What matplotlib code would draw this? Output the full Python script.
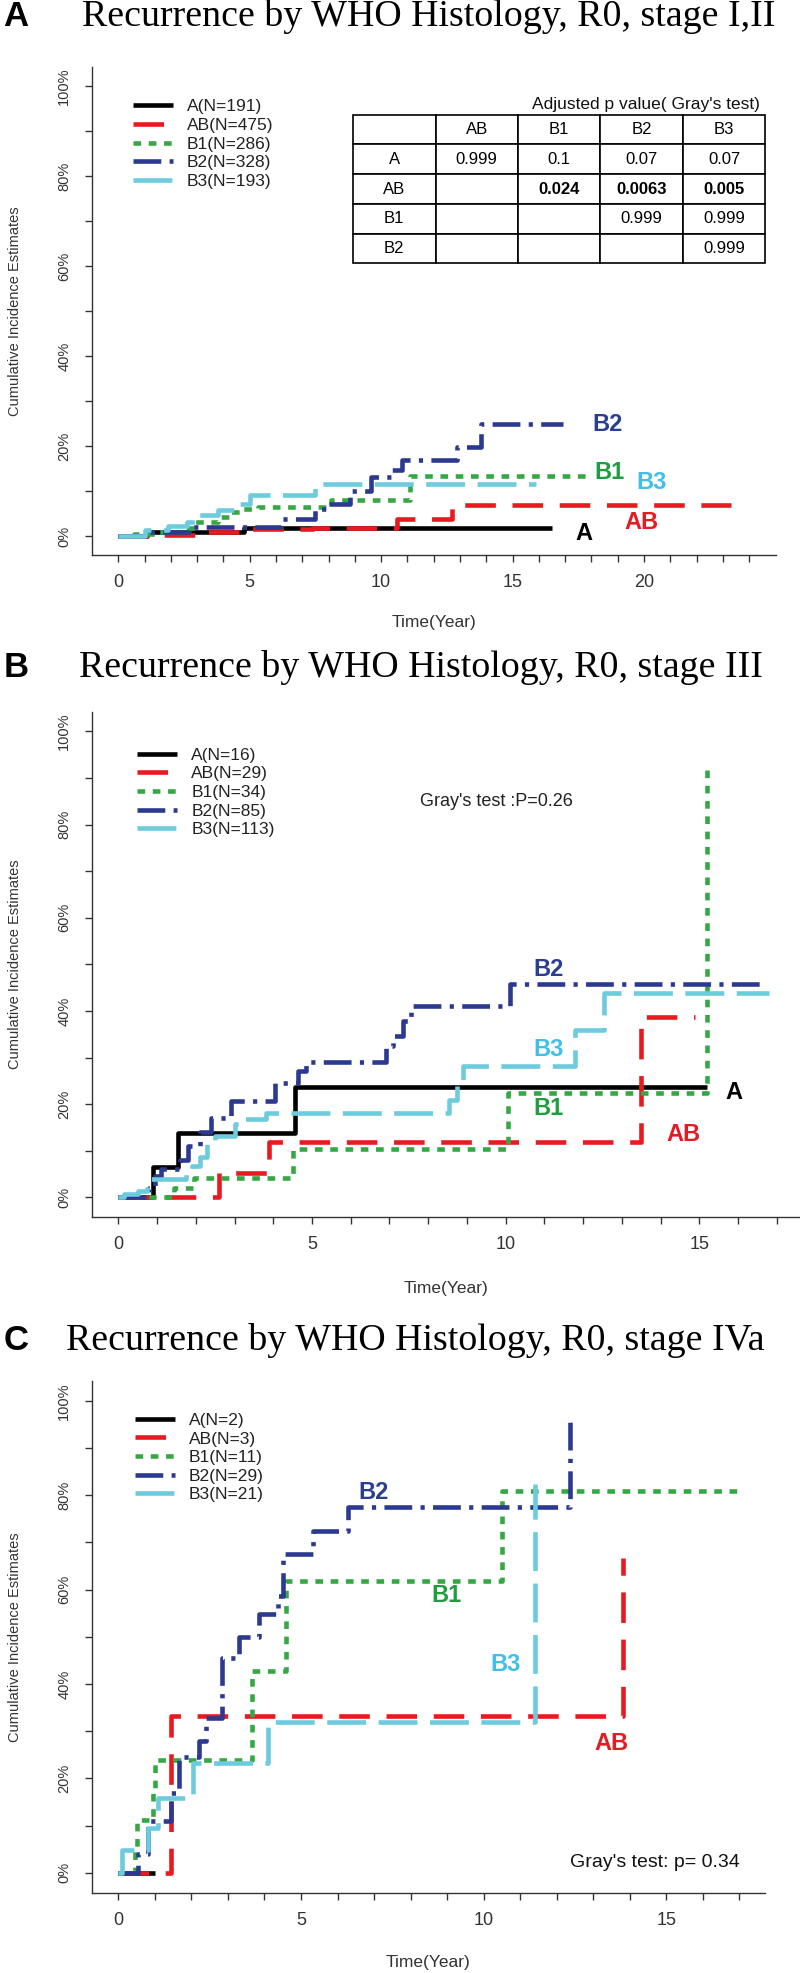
import matplotlib
matplotlib.use("Agg")
import matplotlib.pyplot as plt
from matplotlib.ticker import FixedLocator

plt.rcParams['font.family'] = ['Liberation Sans', 'DejaVu Sans']
plt.rcParams['lines.scale_dashes'] = False

# ---- data: cumulative incidence step curves (time in years, value 0-1) ----
groups = ['A', 'AB', 'B1', 'B2', 'B3']

# panel A, stage I,II
pA_A_t = [0, 1.1, 4.8, 16.5]
pA_A_v = [0, 0.009, 0.019, 0.019]
pA_AB_t = [0, 1.1, 2.9, 5.0, 7.4, 10.6, 12.7, 23.3]
pA_AB_v = [0, 0.003, 0.009, 0.015, 0.019, 0.039, 0.069, 0.069]
pA_B1_t = [0, 0.6, 1.5, 2.5, 2.9, 3.8, 4.3, 4.7, 5.3, 8.1, 11.1, 17.8]
pA_B1_v = [0, 0.005, 0.01, 0.018, 0.031, 0.043, 0.054, 0.061, 0.065, 0.081, 0.134, 0.134]
pA_B2_t = [0, 1.1, 2.7, 6.2, 7.5, 8.0, 8.8, 9.6, 10.4, 10.8, 12.9, 13.8, 16.9]
pA_B2_v = [0, 0.009, 0.02, 0.039, 0.061, 0.072, 0.10, 0.132, 0.147, 0.169, 0.199, 0.248, 0.248]
pA_B3_t = [0, 1.0, 1.9, 2.6, 3.0, 3.8, 4.5, 5.0, 7.5, 15.9]
pA_B3_v = [0, 0.013, 0.022, 0.031, 0.046, 0.058, 0.072, 0.092, 0.115, 0.115]
pA_n = [191, 475, 286, 328, 193]

# panel B, stage III
pB_A_t = [0, 0.9, 1.55, 4.55, 15.2]
pB_A_v = [0, 0.066, 0.139, 0.236, 0.236]
pB_AB_t = [0, 2.6, 3.9, 13.5, 14.9]
pB_AB_v = [0, 0.052, 0.119, 0.386, 0.386]
pB_B1_t = [0, 1.45, 1.95, 4.5, 10.05, 15.2]
pB_B1_v = [0, 0.02, 0.041, 0.104, 0.225, 0.925]
pB_B2_t = [0, 0.8, 0.95, 1.1, 1.6, 1.8, 2.1, 2.4, 2.9, 4.05, 4.65, 4.85, 6.9, 7.1, 7.35, 7.55, 10.1, 16.6]
pB_B2_v = [0, 0.02, 0.045, 0.06, 0.08, 0.11, 0.14, 0.17, 0.207, 0.246, 0.271, 0.291, 0.325, 0.346, 0.379, 0.411, 0.457, 0.457]
pB_B3_t = [0, 0.15, 0.5, 0.75, 1.75, 1.9, 2.1, 2.3, 2.5, 3.0, 3.2, 3.8, 8.55, 8.75, 8.9, 11.8, 12.55, 16.8]
pB_B3_v = [0, 0.007, 0.014, 0.039, 0.057, 0.068, 0.086, 0.118, 0.132, 0.157, 0.168, 0.182, 0.21, 0.25, 0.282, 0.36, 0.439, 0.439]
pB_n = [16, 29, 34, 85, 113]

# panel C, stage IVa
pC_A_t = [0, 1.0]
pC_A_v = [0, 0]
pC_AB_t = [0, 1.44, 13.8]
pC_AB_v = [0, 0.333, 0.667]
pC_B1_t = [0, 0.45, 0.5, 0.95, 1.0, 3.65, 4.6, 10.5, 17.0]
pC_B1_v = [0, 0.05, 0.111, 0.17, 0.24, 0.428, 0.619, 0.81, 0.81]
pC_B2_t = [0, 0.53, 0.8, 1.45, 1.65, 2.2, 2.4, 2.83, 3.3, 3.85, 4.36, 4.5, 5.34, 6.3, 12.35]
pC_B2_v = [0, 0.04, 0.11, 0.17, 0.246, 0.28, 0.329, 0.456, 0.499, 0.548, 0.587, 0.676, 0.725, 0.775, 0.969]
pC_B3_t = [0, 0.1, 0.8, 1.1, 2.05, 4.1, 11.4]
pC_B3_v = [0, 0.048, 0.095, 0.158, 0.232, 0.319, 0.824]
pC_n = [2, 3, 11, 29, 21]

# curve end labels (x, y)
pA_lab = {'B2': (18.6, 0.248), 'B1': (18.7, 0.141), 'B3': (20.3, 0.119), 'AB': (19.9, 0.031), 'A': (17.7, 0.005)}
pB_lab = {'B2': (11.1, 0.489), 'A': (15.9, 0.225), 'B3': (11.1, 0.318), 'B1': (11.1, 0.19), 'AB': (14.6, 0.136)}
pC_lab = {'B2': (7.0, 0.806), 'B1': (8.97, 0.587), 'B3': (10.6, 0.442), 'AB': (13.5, 0.275)}

# adjusted p values table (panel A)
tab_cols = ['', 'AB', 'B1', 'B2', 'B3']
tab_rows = [['A', '0.999', '0.1', '0.07', '0.07'],
            ['AB', '', '0.024', '0.0063', '0.005'],
            ['B1', '', '', '0.999', '0.999'],
            ['B2', '', '', '', '0.999']]

titles = ['Recurrence by WHO Histology, R0, stage I,II',
          'Recurrence by WHO Histology, R0, stage III',
          'Recurrence by WHO Histology, R0, stage IVa']
pct_ticks = [0, 0.2, 0.4, 0.6, 0.8, 1.0]
pct_labels = ['0%', '20%', '40%', '60%', '80%', '100%']

# ---- styles ----
line_col = {'A': '#000000', 'AB': '#e8191f', 'B1': '#35a845', 'B2': '#2b3990', 'B3': '#6ccbdc'}
text_col = {'A': '#000000', 'AB': '#e41b23', 'B1': '#1f9e3f', 'B2': '#2a3f94', 'B3': '#40bfe8'}
dash = {'A': None, 'AB': (22, 12), 'B1': (5.5, 5.5), 'B2': (20, 6, 3, 6), 'B3': (28, 9)}

W, H = 800, 1973
fig = plt.figure(figsize=(W / 100, H / 100), dpi=100)


def add_ax(left, right, top, bottom):
    return fig.add_axes([left / W, 1 - bottom / H, (right - left) / W, (bottom - top) / H])


def draw_panel(ax, curves, ns, labels, xmax_tick, xlim, legend_xy):
    for g in groups:
        t, v = curves[g]
        kw = dict(color=line_col[g], lw=3.3, solid_capstyle='butt')
        if dash[g] is not None:
            kw['dashes'] = dash[g]
        ax.step(t, v, where='post', label='%s(N=%d)' % (g, ns[groups.index(g)]), **kw)
    for g, (x, y) in labels.items():
        ax.text(x, y, g, color=text_col[g], fontsize=17, fontweight='bold',
                ha='center', va='center')
    ax.set_xlim(*xlim)
    ax.set_ylim(-0.042, 1.042)
    ax.xaxis.set_major_locator(FixedLocator(list(range(0, xmax_tick + 1, 5))))
    ax.xaxis.set_minor_locator(FixedLocator(list(range(0, xmax_tick + 1))))
    ax.yaxis.set_major_locator(FixedLocator(pct_ticks))
    ax.yaxis.set_minor_locator(FixedLocator([0.1, 0.3, 0.5, 0.7, 0.9]))
    ax.set_yticklabels(pct_labels, rotation=90, va='center')
    for s in ['top', 'right']:
        ax.spines[s].set_visible(False)
    for s in ['left', 'bottom']:
        ax.spines[s].set_color('#333333')
        ax.spines[s].set_linewidth(1)
    ax.tick_params(which='both', direction='out', length=5, width=1, color='#333333',
                   labelcolor='#333333')
    ax.tick_params(axis='y', labelsize=10.5, pad=10)
    ax.tick_params(axis='x', labelsize=13, pad=9)
    ax.set_ylabel('Cumulative Incidence Estimates', fontsize=10.5, color='#333333', va='center')
    ax.set_xlabel('Time(Year)', fontsize=12.5, color='#333333', va='center')
    leg = ax.legend(loc='upper left', bbox_to_anchor=legend_xy, frameon=False, fontsize=12.5,
                    handlelength=2.3, handletextpad=0.8, labelspacing=0.2, borderpad=0,
                    borderaxespad=0)
    for txt in leg.get_texts():
        txt.set_color('#222222')


# panel A
axA = add_ax(92, 775.5, 67, 555)
draw_panel(axA, {'A': (pA_A_t, pA_A_v), 'AB': (pA_AB_t, pA_AB_v), 'B1': (pA_B1_t, pA_B1_v),
                 'B2': (pA_B2_t, pA_B2_v), 'B3': (pA_B3_t, pA_B3_v)},
           pA_n, pA_lab, 24, (-1, 25), (0.060, 0.934))
axA.yaxis.set_label_coords(-0.113, 0.5)
axA.xaxis.set_label_coords(0.5, -0.139)

tbl = axA.table(cellText=[tab_cols] + tab_rows, cellLoc='center',
                bbox=[0.382, 0.598, 0.603, 0.304])
tbl.auto_set_font_size(False)
tbl.set_fontsize(12)
for (r, c), cell in tbl.get_celld().items():
    cell.set_linewidth(1.2)
    cell.set_edgecolor('black')
    if r == 2 and c >= 2:
        cell.get_text().set_fontweight('bold')
axA.text(0.977, 0.924, "Adjusted p value( Gray's test)", transform=axA.transAxes,
         ha='right', va='center', fontsize=12.5, color='#111111')

# panel B
axB = add_ax(92, 800, 711.7, 1217)
draw_panel(axB, {'A': (pB_A_t, pB_A_v), 'AB': (pB_AB_t, pB_AB_v), 'B1': (pB_B1_t, pB_B1_v),
                 'B2': (pB_B2_t, pB_B2_v), 'B3': (pB_B3_t, pB_B3_v)},
           pB_n, pB_lab, 17, (-0.68, 17.6), (0.064, 0.929))
axB.yaxis.set_label_coords(-0.109, 0.5)
axB.xaxis.set_label_coords(0.5, -0.141)
axB.text(7.8, 0.85, "Gray's test :P=0.26", fontsize=13, color='#222222', ha='left', va='center')

# panel C
axC = add_ax(92, 765, 1381, 1892.7)
draw_panel(axC, {'A': (pC_A_t, pC_A_v), 'AB': (pC_AB_t, pC_AB_v), 'B1': (pC_B1_t, pC_B1_v),
                 'B2': (pC_B2_t, pC_B2_v), 'B3': (pC_B3_t, pC_B3_v)},
           pC_n, pC_lab, 17, (-0.72, 17.7), (0.064, 0.938))
axC.yaxis.set_label_coords(-0.114, 0.5)
axC.xaxis.set_label_coords(0.5, -0.137)
axC.text(17.0, 0.021, "Gray's test: p= 0.34", fontsize=14, color='#111111', ha='right', va='center')

# titles and panel letters
for letter, title, lx, tx, base in [('A', titles[0], 3, 82, 26), ('B', titles[1], 4, 79, 677),
                                     ('C', titles[2], 4, 66, 1350)]:
    fig.text(lx / W, 1 - base / H, letter, fontsize=25, fontweight='bold', va='baseline', ha='left')
    fig.text(tx / W, 1 - base / H, title, fontsize=27.3, family='Liberation Serif',
             va='baseline', ha='left')

fig.savefig('out.png', dpi=100)
